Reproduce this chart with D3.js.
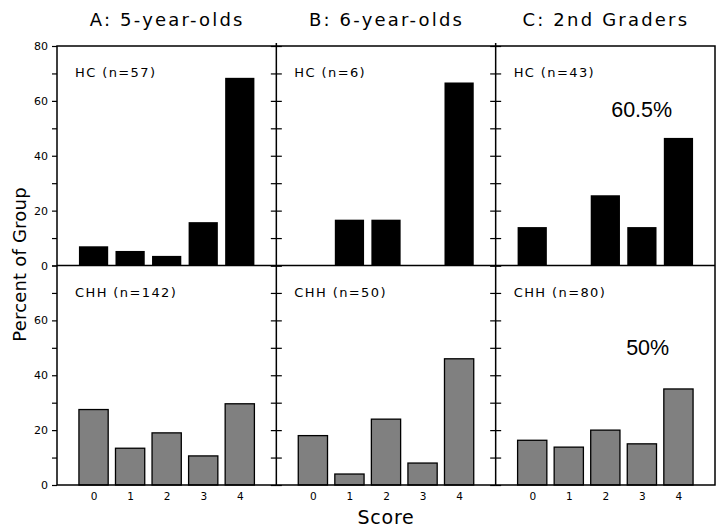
<!DOCTYPE html>
<html>
<head>
<meta charset="utf-8">
<script src="https://cdn.jsdelivr.net/npm/d3@7"></script>
<style>
  body { margin: 0; background: #fff; }
  svg { display: block; font-family: "DejaVu Sans", sans-serif; }
</style>
</head>
<body>
<div id="chart"></div>
<script>
// Data
const scores = [0, 1, 2, 3, 4];
const panelTitles = ["A: 5-year-olds", "B: 6-year-olds", "C: 2nd Graders"];
const hcLabels = ["HC (n=57)", "HC (n=6)", "HC (n=43)"];
const chhLabels = ["CHH (n=142)", "CHH (n=50)", "CHH (n=80)"];
const hcValues = [
  [7.0, 5.3, 3.5, 15.8, 68.4],
  [0, 16.7, 16.7, 0, 66.7],
  [14.0, 0, 25.6, 14.0, 46.5]
];
const chhValues = [
  [27.5, 13.4, 19.0, 10.6, 29.6],
  [18, 4, 24, 8, 46],
  [16.3, 13.8, 20, 15, 35]
];
const yTicks = [0, 10, 20, 30, 40, 50, 60, 70, 80];
const hcNotes = ["", "", "60.5%"];
const chhNotes = ["", "", "50%"];

// Layout
const width = 716, height = 527;
const plotLeft = 57, plotRight = 715, plotTop = 46, plotBottom = 485;
const panelW = (plotRight - plotLeft) / 3;
const rowH = (plotBottom - plotTop) / 2;

const svg = d3.select("#chart").append("svg")
  .attr("width", width)
  .attr("height", height);

const x = d3.scaleLinear().domain([-1, 5]).range([0, panelW]);
const barW = x(0.8) - x(0);

const rows = [
  {values: hcValues, labels: hcLabels, notes: hcNotes, fill: "#000", stroke: "none", y0: plotTop},
  {values: chhValues, labels: chhLabels, notes: chhNotes, fill: "#808080", stroke: "#000", y0: plotTop + rowH}
];

rows.forEach((row, r) => {
  const y = d3.scaleLinear().domain([0, 80]).range([row.y0 + rowH, row.y0]);

  panelTitles.forEach((t, p) => {
    const g = svg.append("g").attr("transform", "translate(" + (plotLeft + p * panelW) + ",0)");

    // bars
    g.selectAll(".bar")
      .data(row.values[p].map((v, i) => ({score: scores[i], v: v})).filter(d => d.v > 0))
      .enter().append("rect")
      .attr("class", "bar")
      .attr("x", d => x(d.score) - barW / 2)
      .attr("width", barW)
      .attr("y", d => y(d.v))
      .attr("height", d => y(0) - y(d.v))
      .attr("fill", row.fill)
      .attr("stroke", row.stroke)
      .attr("stroke-width", 1.3);

    // group label
    g.append("text")
      .attr("x", 18)
      .attr("y", row.y0 + 31)
      .attr("font-size", 13)
      .attr("letter-spacing", 1.4)
      .text(row.labels[p]);

    // annotation
    if (row.notes[p]) {
      g.append("text")
        .attr("x", r === 0 ? 146 : 152)
        .attr("y", row.y0 + (r === 0 ? 71 : 89))
        .attr("text-anchor", "middle")
        .attr("font-family", "Liberation Sans, Arial, sans-serif")
        .attr("font-size", 21.5)
        .text(row.notes[p]);
    }

    // ticks on each panel's left edge
    if (p === 0) {
      const ax = g.append("g")
        .call(d3.axisLeft(y).tickValues(yTicks).tickSize(5).tickPadding(4)
          .tickFormat(d => (d % 20 === 0 && !(r === 1 && d === 80)) ? d : ""));
      ax.select(".domain").remove();
      ax.selectAll("text").attr("font-size", 11).attr("font-family", "DejaVu Sans, sans-serif");
      ax.selectAll("line").attr("stroke-width", 1.2);
    } else {
      [d3.axisLeft(y), d3.axisRight(y)].forEach(a => {
        const ax = g.append("g")
          .call(a.tickValues(yTicks).tickSize(5.5).tickFormat(""));
        ax.select(".domain").remove();
        ax.selectAll("line").attr("stroke-width", 1.2);
      });
    }

    // score labels along the bottom
    if (r === 1) {
      const bx = g.append("g")
        .attr("transform", "translate(0," + plotBottom + ")")
        .call(d3.axisBottom(x).tickValues(scores).tickSize(0).tickPadding(8)
          .tickFormat(d3.format("d")));
      bx.select(".domain").remove();
      bx.selectAll("text").attr("font-size", 10.5).attr("font-family", "DejaVu Sans, sans-serif");
    }

    // panel title
    if (r === 0) {
      g.append("text")
        .attr("x", panelW / 2 + 0.5)
        .attr("y", 26)
        .attr("text-anchor", "middle")
        .attr("font-size", 18)
        .attr("letter-spacing", 2.2)
        .text(t);
    }
  });
});

// frame and dividers
svg.append("rect")
  .attr("x", plotLeft).attr("y", plotTop)
  .attr("width", plotRight - plotLeft).attr("height", plotBottom - plotTop)
  .attr("fill", "none").attr("stroke", "#000").attr("stroke-width", 1.5);

[1, 2].forEach(i => {
  svg.append("line")
    .attr("x1", plotLeft + i * panelW).attr("x2", plotLeft + i * panelW)
    .attr("y1", plotTop - 3).attr("y2", plotBottom)
    .attr("stroke", "#000").attr("stroke-width", 1.5);
});

svg.append("line")
  .attr("x1", plotLeft).attr("x2", plotRight)
  .attr("y1", plotTop + rowH).attr("y2", plotTop + rowH)
  .attr("stroke", "#000").attr("stroke-width", 1.5);

// axis titles
svg.append("text")
  .attr("transform", "rotate(-90)")
  .attr("x", -(plotTop + plotBottom) / 2 + 1)
  .attr("y", 26)
  .attr("text-anchor", "middle")
  .attr("font-size", 18)
  .attr("letter-spacing", 0.2)
  .text("Percent of Group");

svg.append("text")
  .attr("x", plotLeft + panelW * 1.5)
  .attr("y", 524)
  .attr("text-anchor", "middle")
  .attr("font-size", 19)
  .attr("letter-spacing", 0.8)
  .text("Score");
</script>
</body>
</html>
